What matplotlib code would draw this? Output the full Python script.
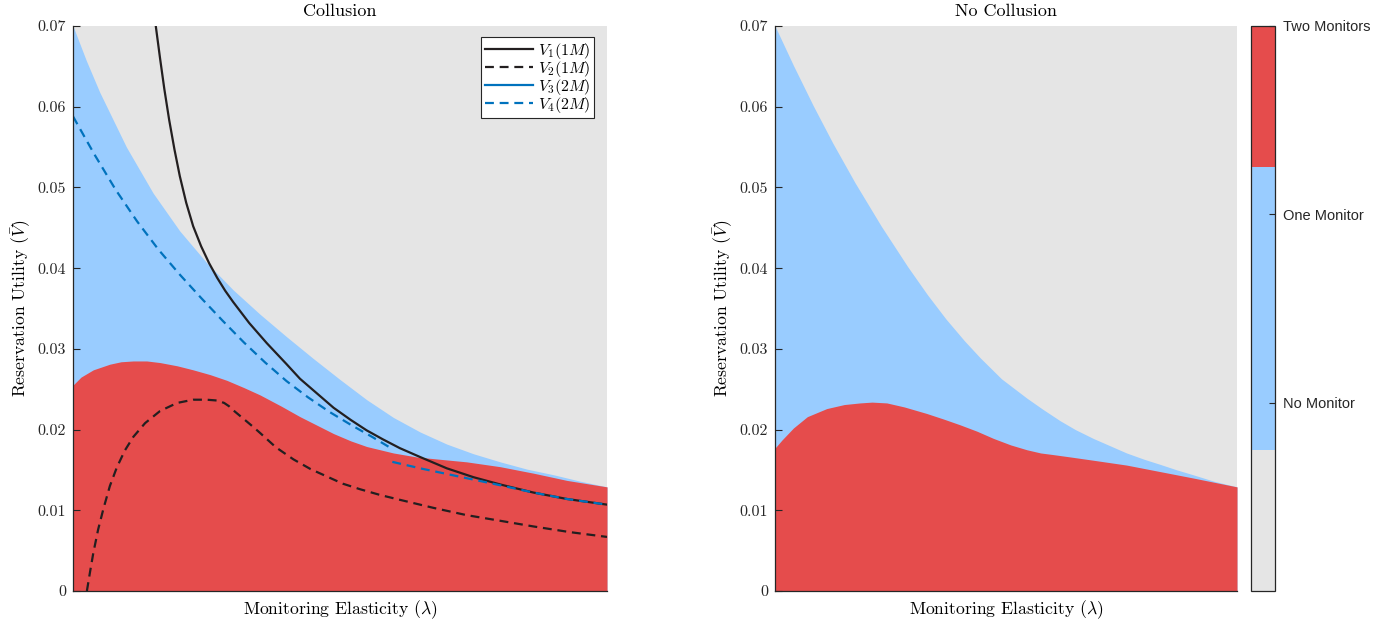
import numpy as np
import matplotlib
matplotlib.use("Agg")
import matplotlib.pyplot as plt
from matplotlib.colors import ListedColormap, Normalize
from matplotlib.colorbar import ColorbarBase

plt.rcParams["font.family"] = "cmr10"
plt.rcParams["mathtext.fontset"] = "cm"
plt.rcParams["axes.formatter.use_mathtext"] = True

# colours
c_grey = "#e5e5e5"
c_blue = "#99ccff"
c_red = "#e54c4c"
c_black = "#231f20"
c_line_blue = "#0072bd"

# y ticks
yticks = [0, 0.01, 0.02, 0.03, 0.04, 0.05, 0.06, 0.07]
ytick_labels = ["0", "0.01", "0.02", "0.03", "0.04", "0.05", "0.06", "0.07"]

# ---- Collusion panel (lambda on a normalised 0..1 scale) ----
# upper edge of the one-monitor region
lam_one_c = [0.000, 0.025, 0.050, 0.100, 0.150, 0.200, 0.250, 0.300, 0.350, 0.400,
             0.450, 0.500, 0.550, 0.600, 0.650, 0.700, 0.750, 0.800, 0.850, 0.900,
             0.950, 1.000]
one_c = [0.0700, 0.0657, 0.0618, 0.0550, 0.0493, 0.0446, 0.0407, 0.0373, 0.0343, 0.0315,
         0.0288, 0.0262, 0.0237, 0.0215, 0.0197, 0.0182, 0.0170, 0.0160, 0.0151, 0.0144,
         0.0136, 0.0129]
# upper edge of the two-monitor region
lam_two_c = [0.000, 0.015, 0.038, 0.069, 0.090, 0.113, 0.138, 0.163, 0.195, 0.225,
             0.257, 0.288, 0.320, 0.350, 0.390, 0.425, 0.455, 0.488, 0.520, 0.550,
             0.575, 0.600, 0.644, 0.690, 0.737, 0.800, 0.862, 0.925, 1.000]
two_c = [0.0255, 0.0265, 0.0274, 0.0281, 0.0284, 0.0285, 0.0285, 0.0283, 0.0279, 0.0274,
         0.0268, 0.0261, 0.0252, 0.0243, 0.0229, 0.0216, 0.0206, 0.0195, 0.0186, 0.0179,
         0.0175, 0.0171, 0.0166, 0.0163, 0.0160, 0.0154, 0.0146, 0.0137, 0.0129]

# V1(1M)
lam_v1 = [0.155, 0.163, 0.171, 0.180, 0.190, 0.200, 0.212, 0.225, 0.240, 0.255,
          0.270, 0.285, 0.300, 0.330, 0.363, 0.400, 0.425, 0.460, 0.488, 0.520,
          0.550, 0.580, 0.612, 0.650, 0.700, 0.750, 0.800, 0.862, 0.925, 1.000]
v1 = [0.0700, 0.0660, 0.0622, 0.0584, 0.0547, 0.0514, 0.0481, 0.0452, 0.0427, 0.0406,
      0.0388, 0.0372, 0.0358, 0.0332, 0.0307, 0.0281, 0.0263, 0.0243, 0.0227, 0.0212,
      0.0199, 0.0188, 0.0177, 0.0166, 0.0152, 0.0141, 0.0132, 0.0122, 0.0114, 0.0107]
# V2(1M)
lam_v2 = [0.026, 0.032, 0.038, 0.047, 0.057, 0.069, 0.082, 0.097, 0.113, 0.135,
          0.163, 0.195, 0.225, 0.250, 0.270, 0.283, 0.292, 0.300, 0.320, 0.338,
          0.350, 0.380, 0.413, 0.445, 0.475, 0.505, 0.538, 0.575, 0.612, 0.675,
          0.737, 0.800, 0.862, 0.930, 1.000]
v2 = [0.0000, 0.0024, 0.0047, 0.0076, 0.0102, 0.0130, 0.0153, 0.0174, 0.0191, 0.0208,
      0.0223, 0.0233, 0.0237, 0.0237, 0.0236, 0.0233, 0.0229, 0.0224, 0.0213, 0.0203,
      0.0196, 0.0178, 0.0163, 0.0151, 0.0142, 0.0133, 0.0126, 0.0119, 0.0113, 0.0103,
      0.0094, 0.0087, 0.0080, 0.0073, 0.0067]
# V4(2M), two branches
lam_v4a = [0.000, 0.040, 0.080, 0.120, 0.160, 0.200, 0.240, 0.280, 0.320, 0.360,
           0.400, 0.440, 0.480, 0.520, 0.560, 0.598]
v4a = [0.0588, 0.0541, 0.0497, 0.0458, 0.0423, 0.0392, 0.0363, 0.0335, 0.0308, 0.0283,
       0.0260, 0.0240, 0.0222, 0.0206, 0.0191, 0.0176]
lam_v4b = [0.598, 0.650, 0.700, 0.750, 0.800, 0.862, 0.925, 1.000]
v4b = [0.0160, 0.0152, 0.0145, 0.0138, 0.0131, 0.0122, 0.0114, 0.0107]

# ---- No Collusion panel ----
lam_one_n = [0.000, 0.040, 0.083, 0.125, 0.173, 0.230, 0.287, 0.330, 0.370, 0.410,
             0.444, 0.490, 0.545, 0.580, 0.617, 0.650, 0.689, 0.725, 0.761, 0.800,
             0.833, 0.870, 0.905, 0.950, 1.000]
one_n = [0.0700, 0.0651, 0.0601, 0.0555, 0.0506, 0.0452, 0.0402, 0.0367, 0.0337, 0.0310,
         0.0289, 0.0263, 0.0239, 0.0225, 0.0211, 0.0200, 0.0189, 0.0180, 0.0171, 0.0163,
         0.0157, 0.0150, 0.0144, 0.0136, 0.0129]
lam_two_n = [0.000, 0.015, 0.040, 0.070, 0.112, 0.150, 0.184, 0.210, 0.242, 0.280,
             0.328, 0.365, 0.400, 0.437, 0.473, 0.510, 0.545, 0.575, 0.602, 0.640,
             0.689, 0.761, 0.833, 0.905, 1.000]
two_n = [0.0177, 0.0187, 0.0202, 0.0216, 0.0226, 0.0231, 0.0233, 0.0234, 0.0233, 0.0228,
         0.0220, 0.0213, 0.0206, 0.0198, 0.0189, 0.0181, 0.0175, 0.0171, 0.0169, 0.0166,
         0.0162, 0.0156, 0.0148, 0.0140, 0.0129]

cb_labels = ["No Monitor", "One Monitor", "Two Monitors"]
cb_ticks = [1 / 3, 2 / 3, 1.0]


fig = plt.figure(figsize=(13.94, 6.26), dpi=100)
ax1 = fig.add_axes([0.05237, 0.05591, 0.38307, 0.90256])
ax2 = fig.add_axes([0.55595, 0.05591, 0.33142, 0.90256])
cax = fig.add_axes([0.89742, 0.05591, 0.01722, 0.90256])


def style(ax, title):
    ax.set_facecolor(c_grey)
    ax.set_xlim(0, 1)
    ax.set_ylim(0, 0.07)
    ax.set_xticks([])
    ax.set_yticks(yticks)
    ax.set_yticklabels(ytick_labels)
    ax.tick_params(axis="y", direction="in", length=5, width=0.8, colors="#262626",
                   labelsize=11.5, pad=5)
    for s in ["top", "right"]:
        ax.spines[s].set_visible(False)
    for s in ["left", "bottom"]:
        ax.spines[s].set_color("#262626")
        ax.spines[s].set_linewidth(0.9)
        ax.spines[s].set_zorder(5)
    ax.set_title(title, fontsize=13, pad=7)
    ax.set_xlabel(r"Monitoring Elasticity ($\lambda$)", fontsize=12.7, labelpad=5)
    ax.set_ylabel(r"Reservation Utility ($\bar{V}$)", fontsize=12.7, labelpad=3)


# left panel
ax1.fill_between(lam_one_c, one_c, 0, color=c_blue, lw=0)
ax1.fill_between(lam_two_c, two_c, 0, color=c_red, lw=0)
ax1.plot(lam_v1, v1, color=c_black, lw=1.6, label=r"$V_1(1M)$")
ax1.plot(lam_v2, v2, color=c_black, lw=1.6, ls=(0, (4, 2.6)), label=r"$V_2(1M)$")
ax1.plot([], [], color=c_line_blue, lw=1.6, label=r"$V_3(2M)$")
ax1.plot(lam_v4a, v4a, color=c_line_blue, lw=1.6, ls=(0, (4, 2.6)), label=r"$V_4(2M)$")
ax1.plot(lam_v4b, v4b, color=c_line_blue, lw=1.6, ls=(0, (4, 2.6)))
style(ax1, "Collusion")
leg = ax1.legend(loc="upper right", bbox_to_anchor=(0.9757, 0.9805), borderaxespad=0,
                 fontsize=11.6, frameon=True, fancybox=False,
                 framealpha=1, edgecolor="#262626",
                 handlelength=3.0, labelspacing=-0.12, borderpad=0.22, handletextpad=0.3)
leg.get_frame().set_linewidth(0.8)

# right panel
ax2.fill_between(lam_one_n, one_n, 0, color=c_blue, lw=0)
ax2.fill_between(lam_two_n, two_n, 0, color=c_red, lw=0)
style(ax2, "No Collusion")

# colour bar
cmap = ListedColormap([c_grey, c_blue, c_blue, c_red])
cb = ColorbarBase(cax, cmap=cmap, norm=Normalize(0, 1), orientation="vertical")
cb.set_ticks(cb_ticks)
cb.set_ticklabels(cb_labels)
cb.outline.set_edgecolor("#262626")
cb.outline.set_linewidth(0.9)
cax.tick_params(direction="in", length=4, width=0.8, colors="#262626", pad=6)
for t in cax.get_yticklabels():
    t.set_family("Liberation Sans")
    t.set_fontsize(10.5)

fig.savefig("out.png", dpi=100)
